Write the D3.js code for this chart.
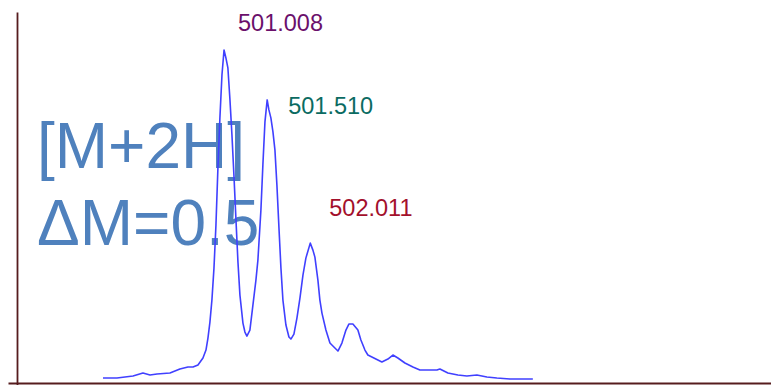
<!DOCTYPE html>
<html>
<head>
<meta charset="utf-8">
<script src="https://cdn.jsdelivr.net/npm/d3@7/dist/d3.min.js"></script>
<style>
  html, body { margin: 0; padding: 0; background: #fff; }
  svg { display: block; font-family: "Liberation Sans", Arial, sans-serif; }
</style>
</head>
<body>
<svg id="chart" width="771" height="385"></svg>
<script>
// Isotope envelope of a doubly charged ion: m/z vs relative intensity (%)
const mz = [
  499.600, 499.763, 499.949, 500.065, 500.147, 500.228, 500.379, 500.495, 500.588, 500.647,
  500.705, 500.763, 500.798, 500.821, 500.844, 500.867, 500.891, 500.914, 500.937, 500.960,
  500.984, 501.008, 501.030, 501.053, 501.077, 501.100, 501.123, 501.147, 501.170, 501.193,
  501.228, 501.251, 501.274, 501.309, 501.344, 501.379, 501.402, 501.437, 501.460, 501.484,
  501.510, 501.530, 501.553, 501.577, 501.600, 501.623, 501.647, 501.670, 501.693, 501.728,
  501.763, 501.786, 501.821, 501.856, 501.891, 501.926, 501.960, 502.011, 502.042, 502.065,
  502.100, 502.123, 502.147, 502.193, 502.240, 502.286, 502.333, 502.379, 502.426, 502.460,
  502.507, 502.565, 502.600, 502.647, 502.681, 502.751, 502.844, 502.914, 502.972, 503.030,
  503.112, 503.205, 503.286, 503.402, 503.484, 503.519, 503.612, 503.728, 503.833, 503.949,
  504.065, 504.181, 504.333, 504.600
];
const intensity = [
  1.5, 1.5, 2.1, 3.0, 2.4, 2.7, 3.0, 4.2, 4.8, 4.8,
  5.4, 7.5, 9.9, 13.5, 18.3, 24.9, 34.5, 47.4, 64.6, 79.6,
  92.5, 100.0, 97.6, 94.6, 85.0, 74.5, 62.5, 48.9, 36.3, 26.4,
  18.0, 15.3, 14.1, 15.9, 23.4, 30.9, 36.9, 51.9, 65.5, 78.4,
  85.0, 82.0, 79.6, 75.4, 70.0, 59.5, 46.5, 34.5, 24.9, 17.4,
  13.8, 13.2, 14.7, 19.5, 25.5, 32.4, 37.5, 42.0, 39.9, 37.8,
  30.9, 24.9, 21.0, 15.9, 12.0, 10.8, 9.6, 12.0, 15.9, 17.7,
  17.7, 15.9, 12.9, 9.9, 8.4, 7.5, 6.3, 7.2, 8.4, 7.5,
  6.0, 4.8, 3.9, 3.9, 3.9, 4.2, 3.0, 2.4, 2.1, 2.4,
  1.8, 1.5, 1.2, 1.2
];

// Labelled isotope peaks
const peakLabels = ["501.008", "501.510", "502.011"];
const peakColors = ["#6b106b", "#0b6b62", "#a3102c"];
const annotation = ["[M+2H]", "ΔM=0.5"];

const xDomain = [498.6, 507.37];
const yDomain = [0, 111.4];

const svg = d3.select("#chart");

const x = d3.scaleLinear().domain(xDomain).range([17, 771]);
const y = d3.scaleLinear().domain(yDomain).range([383, 12]);

// Axis lines (no ticks), slightly overshooting at the origin
const xAxisScale = x.copy().domain([x.invert(8), xDomain[1]]).range([8, 771]);
const yAxisScale = y.copy().domain([y.invert(385.5), yDomain[1]]).range([385.5, 12]);

const axisColor = "#561c1e";
svg.append("g")
  .attr("transform", "translate(0,383)")
  .call(d3.axisBottom(xAxisScale).tickValues([]).tickSizeOuter(0))
  .call(g => g.select(".domain").attr("stroke", axisColor).attr("stroke-width", 1.8));
svg.append("g")
  .attr("transform", "translate(17,0)")
  .call(d3.axisLeft(yAxisScale).tickValues([]).tickSizeOuter(0))
  .call(g => g.select(".domain").attr("stroke", axisColor).attr("stroke-width", 1.8));

// Annotation text
svg.append("g")
  .selectAll("text")
  .data(annotation)
  .join("text")
  .attr("x", 37)
  .attr("y", (d, i) => [168, 245][i])
  .attr("fill", "#4f81bd")
  .attr("font-size", 64)
  .text(d => d);

// Spectrum trace
const pts = mz.map((m, i) => [m, intensity[i]]);
svg.append("path")
  .datum(pts)
  .attr("fill", "none")
  .attr("stroke", "#4040ff")
  .attr("stroke-width", 1.6)
  .attr("stroke-linejoin", "round")
  .attr("d", d3.line().x(d => x(d[0])).y(d => y(d[1])));

// Peak labels, placed relative to each peak apex
const labelOffsets = [[14, -19], [21, 14], [19, -27]];
svg.append("g")
  .selectAll("text")
  .data(peakLabels)
  .join("text")
  .attr("x", (d, i) => x(+d) + labelOffsets[i][0])
  .attr("y", (d, i) => {
    const k = mz.indexOf(+d);
    return y(intensity[k]) + labelOffsets[i][1];
  })
  .attr("fill", (d, i) => peakColors[i])
  .attr("font-size", 23.5)
  .text(d => d);
</script>
</body>
</html>
